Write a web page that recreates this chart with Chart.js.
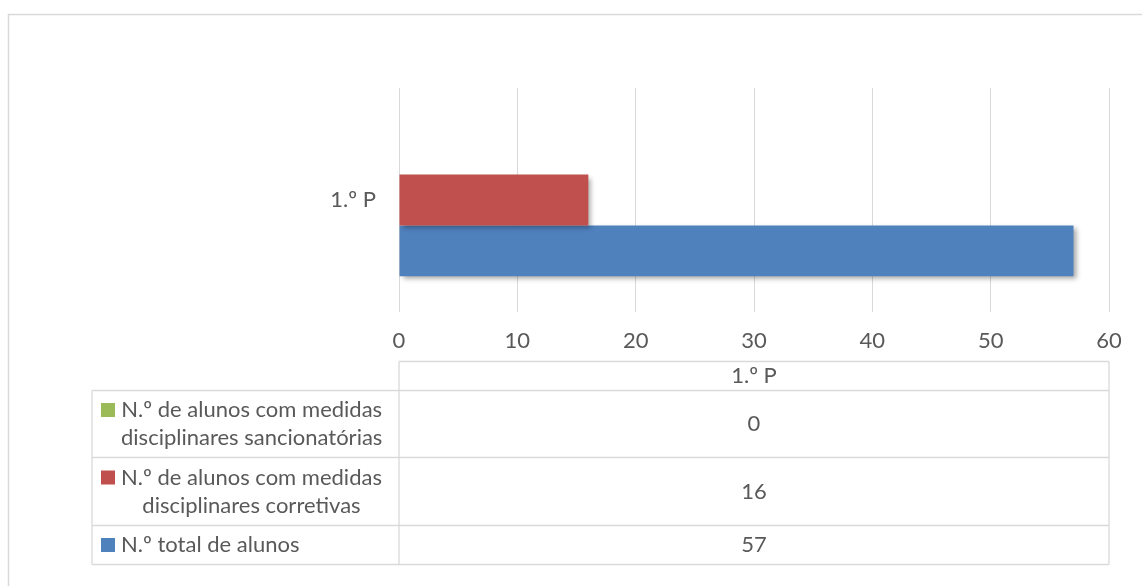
<!DOCTYPE html>
<html>
<head>
<meta charset="utf-8">
<script src="https://cdn.jsdelivr.net/npm/chart.js@4/dist/chart.umd.min.js"></script>
<style>
  html, body { margin: 0; padding: 0; background: #fff; }
  #wrap { position: relative; width: 1142px; height: 586px; }
</style>
</head>
<body>
<div id="wrap"><canvas id="chart" width="1142" height="586"></canvas></div>
<script>
// data
const categories = ['1.º P'];
const seriesNames = [
    'N.º de alunos com medidas disciplinares sancionatórias',
    'N.º de alunos com medidas disciplinares corretivas',
    'N.º total de alunos'
];
const seriesLines = [
    ['N.º de alunos com medidas', 'disciplinares sancionatórias'],
    ['N.º de alunos com medidas', 'disciplinares corretivas'],
    ['N.º total de alunos']
];
const sancionatorias = [0];
const corretivas = [16];
const totalAlunos = [57];
const seriesColors = ['#9BBB59', '#C0504D', '#4F81BD'];
const xMax = 60;
const xStep = 10;

const textColor = '#595959';
const gridColor = '#D9D9D9';
const fontFamily = 'Lato, "Open Sans", sans-serif';
const fontSize = 22;

const seriesValues = [sancionatorias, corretivas, totalAlunos];

// bar shadow like the office look
const barShadow = {
    id: 'barShadow',
    beforeDatasetsDraw(chart) {
        const ctx = chart.ctx;
        ctx.save();
        ctx.shadowColor = 'rgba(0,0,0,0.35)';
        ctx.shadowBlur = 5;
        ctx.shadowOffsetX = 3;
        ctx.shadowOffsetY = 3;
    },
    afterDatasetsDraw(chart) {
        chart.ctx.restore();
    }
};

// outer frame + data table under the plot
const dataTable = {
    id: 'dataTable',
    afterDraw(chart) {
        const ctx = chart.ctx;
        const area = chart.chartArea;
        const left = area.left, right = area.right;
        const tableLeft = 92;
        const rows = [361.5, 390.5, 457.5, 525.5, 564.5];

        ctx.save();
        // frame
        ctx.strokeStyle = gridColor;
        ctx.lineWidth = 1.5;
        ctx.beginPath();
        ctx.moveTo(8.5, 600);
        ctx.lineTo(8.5, 14.5);
        ctx.lineTo(1160, 14.5);
        ctx.stroke();

        // table lines
        ctx.lineWidth = 1.3;
        ctx.beginPath();
        ctx.moveTo(left, rows[0]); ctx.lineTo(right, rows[0]);
        for (let i = 1; i < rows.length; i++) {
            ctx.moveTo(tableLeft, rows[i]); ctx.lineTo(right, rows[i]);
        }
        ctx.moveTo(left, rows[0]); ctx.lineTo(left, rows[4]);
        ctx.moveTo(right, rows[0]); ctx.lineTo(right, rows[4]);
        ctx.moveTo(tableLeft, rows[1]); ctx.lineTo(tableLeft, rows[4]);
        ctx.stroke();

        ctx.fillStyle = textColor;
        ctx.font = fontSize + 'px ' + fontFamily;
        ctx.textBaseline = 'middle';
        ctx.textAlign = 'center';
        const midX = (left + right) / 2;
        ctx.fillText(categories[0], midX, (rows[0] + rows[1]) / 2);

        const lineGap = 28;
        for (let s = 0; s < seriesNames.length; s++) {
            const top = rows[s + 1], bottom = rows[s + 2];
            const cy = (top + bottom) / 2;
            ctx.textAlign = 'center';
            ctx.fillStyle = textColor;
            ctx.fillText(String(seriesValues[s][0]), midX, cy);

            const lines = seriesLines[s];
            const firstY = cy - (lines.length - 1) * lineGap / 2;
            const textX = 121;
            let blockW = 0;
            lines.forEach(l => { blockW = Math.max(blockW, ctx.measureText(l).width); });
            ctx.fillStyle = seriesColors[s];
            ctx.fillRect(101, firstY - 7, 14, 14);
            ctx.fillStyle = textColor;
            lines.forEach((l, i) => {
                ctx.fillText(l, textX + blockW / 2, firstY + i * lineGap);
            });
        }
        ctx.restore();
    }
};

new Chart(document.getElementById('chart'), {
    type: 'bar',
    data: {
        labels: categories,
        datasets: seriesNames.map((name, i) => ({
            label: name,
            data: seriesValues[i],
            backgroundColor: seriesColors[i],
            borderWidth: 0,
            categoryPercentage: 0.68,
            barPercentage: 1
        }))
    },
    options: {
        indexAxis: 'y',
        responsive: false,
        animation: false,
        layout: {
            padding: { left: 0, right: 33, top: 88, bottom: 0 }
        },
        plugins: {
            legend: { display: false },
            tooltip: { enabled: false }
        },
        scales: {
            x: {
                min: 0,
                max: xMax,
                ticks: {
                    stepSize: xStep,
                    color: textColor,
                    padding: 16,
                    font: { family: fontFamily, size: fontSize }
                },
                grid: { color: gridColor, lineWidth: 1, drawTicks: false },
                border: { display: false },
                afterFit(scale) { scale.height = 274; }
            },
            y: {
                ticks: {
                    color: textColor,
                    padding: 23,
                    font: { family: fontFamily, size: fontSize }
                },
                grid: { display: false, drawTicks: false },
                border: { display: false },
                afterFit(scale) { scale.width = 399; }
            }
        }
    },
    plugins: [barShadow, dataTable]
});
</script>
</body>
</html>
